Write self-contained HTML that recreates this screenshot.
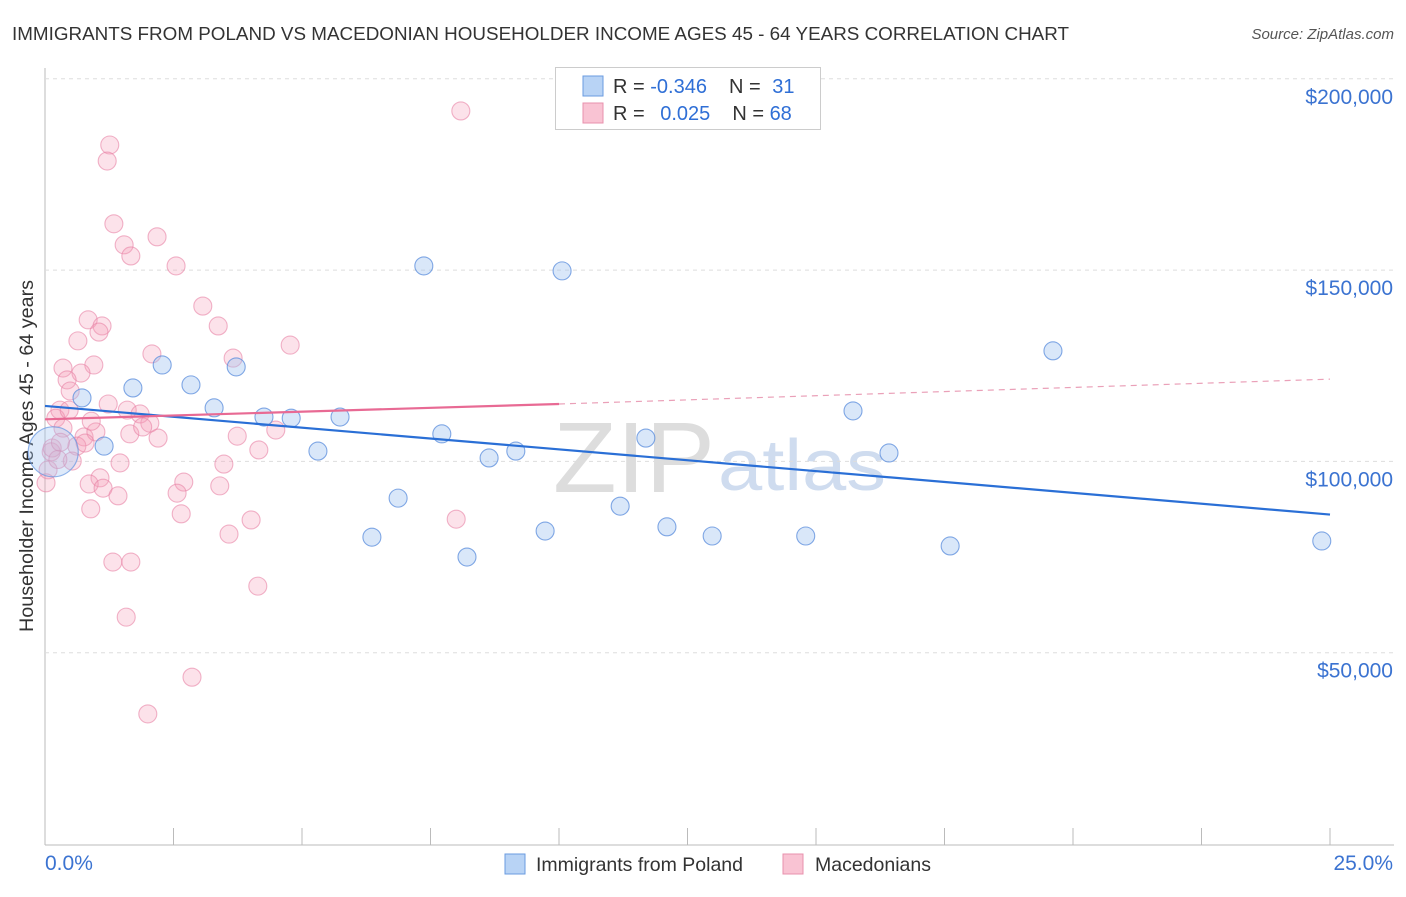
<!DOCTYPE html>
<html><head><meta charset="utf-8"><style>
body{margin:0;background:#fff;font-family:"Liberation Sans",sans-serif}
svg text{font-family:"Liberation Sans",sans-serif}
</style></head><body>
<svg id="chart" width="1406" height="892" xmlns="http://www.w3.org/2000/svg">
<text x="12" y="40" font-size="18" fill="#333" textLength="1057" lengthAdjust="spacingAndGlyphs">IMMIGRANTS FROM POLAND VS MACEDONIAN HOUSEHOLDER INCOME AGES 45 - 64 YEARS CORRELATION CHART</text>
<text x="1394" y="39" font-size="15" fill="#555" font-style="italic" text-anchor="end">Source: ZipAtlas.com</text>
<text x="33" y="456" font-size="19" fill="#333" text-anchor="middle" textLength="352" lengthAdjust="spacingAndGlyphs" transform="rotate(-90 33 456)">Householder Income Ages 45 - 64 years</text>
<text x="553" y="492" font-size="100" fill="#ddd" font-family="Liberation Serif" textLength="162" lengthAdjust="spacingAndGlyphs">ZIP</text>
<text x="718" y="490" font-size="72" fill="#cfdcef" textLength="168" lengthAdjust="spacingAndGlyphs">atlas</text>
<g id="grid"></g><g id="pts"></g><g id="lines"></g>
<g>
<rect x="555.5" y="67.5" width="265" height="62" fill="#fff" stroke="#ccc"/>
<rect x="583" y="76" width="20" height="20" fill="#b8d3f5" stroke="#6a9be0"/>
<rect x="583" y="103" width="20" height="20" fill="#f9c3d3" stroke="#e890ad"/>
<text x="613" y="93" font-size="20" fill="#333">R = <tspan fill="#2f6fd6">-0.346</tspan><tspan dx="22">N = </tspan><tspan fill="#2f6fd6" dx="6">31</tspan></text>
<text x="613" y="120" font-size="20" fill="#333">R = <tspan fill="#2f6fd6" dx="10">0.025</tspan><tspan dx="22">N = </tspan><tspan fill="#2f6fd6">68</tspan></text>
</g>
<g>
<rect x="505" y="854" width="20" height="20" fill="#b8d3f5" stroke="#6a9be0"/>
<text x="536" y="871" font-size="19.5" fill="#333">Immigrants from Poland</text>
<rect x="783" y="854" width="20" height="20" fill="#f9c3d3" stroke="#e890ad"/>
<text x="815" y="871" font-size="19.5" fill="#333">Macedonians</text>
</g>
</svg>
<script>
const yTicks=[50000,100000,150000,200000];
const yTickLabels=["$50,000","$100,000","$150,000","$200,000"];
const xTickLabels=["0.0%","25.0%"];
const polandX=[0.72,1.71,1.15,2.28,2.84,3.29,3.72,4.26,4.79,5.31,5.74,6.36,6.87,7.37,7.72,8.21,8.64,9.16,9.73,10.06,11.19,11.69,12.10,12.98,14.80,15.72,16.42,17.61,19.61,24.84];
const polandY=[116600,119200,104000,125200,120000,114000,124700,111600,111300,102700,111600,80200,90400,151100,107200,75000,100900,102700,81800,149800,88300,106100,82900,80500,80500,113200,102200,77900,128900,79200];
const polandBig=[0.16,102500];
const macX=[1.26,1.21,8.09,1.34,2.18,1.54,1.67,2.55,3.07,0.84,3.37,1.11,1.05,0.64,4.77,2.08,3.66,0.35,0.95,0.70,0.43,0.49,1.23,0.29,1.60,1.85,0.21,2.04,0.47,0.35,1.65,2.20,3.74,4.49,0.76,0.99,0.62,0.78,0.12,4.16,0.53,1.46,3.48,0.06,1.07,0.86,2.70,3.40,1.13,1.42,2.57,0.89,2.65,4.01,3.58,8.00,1.32,1.67,4.14,1.58,2.86,2.00,0.02,0.14,0.3,0.9,1.9,0.25];
const macY=[182700,178500,191600,162100,158700,156600,153700,151100,140600,137000,135400,135400,133800,131500,130400,128100,127000,124400,125200,123100,121300,118400,115000,113400,113400,112400,111300,110000,113400,108700,107200,106100,106600,108200,106400,107700,104000,104800,102500,103000,100100,99600,99300,97800,95700,94100,94600,93600,93000,91000,91700,87600,86300,84700,81000,84900,73700,73700,67400,59300,43600,34000,94400,103500,105000,110500,109000,100500];
const polTrend=[114500,86100];
const macTrend=[111000,115000,121500];
const X=v=>45+v/25*1285, Y=v=>844-v/50000*191.3;
const NS="http://www.w3.org/2000/svg";
function mk(t,a,p){const e=document.createElementNS(NS,t);for(const k in a)e.setAttribute(k,a[k]);document.getElementById(p).appendChild(e);return e;}
let ax=mk('line',{x1:45,y1:68,x2:45,y2:845,stroke:'#bbb'},'grid');


let bx=mk('line',{x1:45,y1:845,x2:1394,y2:845,stroke:'#bbb'},'grid');


for(let i=0;i<=10;i++){let t=mk('line',{x1:45+i*128.5,y1:828,x2:45+i*128.5,y2:845,stroke:'#bbb'},'grid');

}
yTicks.forEach((v,i)=>{let g=mk('line',{x1:45,y1:Y(v),x2:1394,y2:Y(v),stroke:'#ddd','stroke-dasharray':'4,4'},'grid');


let t=mk('text',{x:1393,y:Y(v)+25,'font-size':21,fill:'#3b73d1','text-anchor':'end'},'grid');t.textContent=yTickLabels[i];

});
xTickLabels.forEach((s,i)=>{let t=mk('text',{x:i?1393:45,y:870,'font-size':21,fill:'#3b73d1','text-anchor':i?'end':'start'},'grid');t.textContent=s;

});
macX.forEach((x,i)=>{let c=mk('circle',{cx:X(x),cy:Y(macY[i]),r:9,fill:'rgba(244,160,186,0.3)',stroke:'rgba(232,130,165,0.6)','stroke-width':1.1},'pts');

});
let big=mk('circle',{cx:X(polandBig[0]),cy:Y(polandBig[1]),r:25,fill:'rgba(160,195,240,0.35)',stroke:'rgba(100,150,225,0.7)','stroke-width':1.2},'pts');


polandX.forEach((x,i)=>{let c=mk('circle',{cx:X(x),cy:Y(polandY[i]),r:9,fill:'rgba(160,195,240,0.4)',stroke:'rgba(90,140,220,0.75)','stroke-width':1.1},'pts');

});
let bl=mk('line',{x1:X(0),y1:Y(polTrend[0]),x2:X(25),y2:Y(polTrend[1]),stroke:'#2a6fd6','stroke-width':2.2},'lines');


let pl=mk('line',{x1:X(0),y1:Y(macTrend[0]),x2:X(10),y2:Y(macTrend[1]),stroke:'#e86a94','stroke-width':2.2},'lines');


let pd=mk('line',{x1:X(10),y1:Y(macTrend[1]),x2:X(25),y2:Y(macTrend[2]),stroke:'#eaa0b8','stroke-width':1.2,'stroke-dasharray':'6,5'},'lines');


</script>
</body></html>
